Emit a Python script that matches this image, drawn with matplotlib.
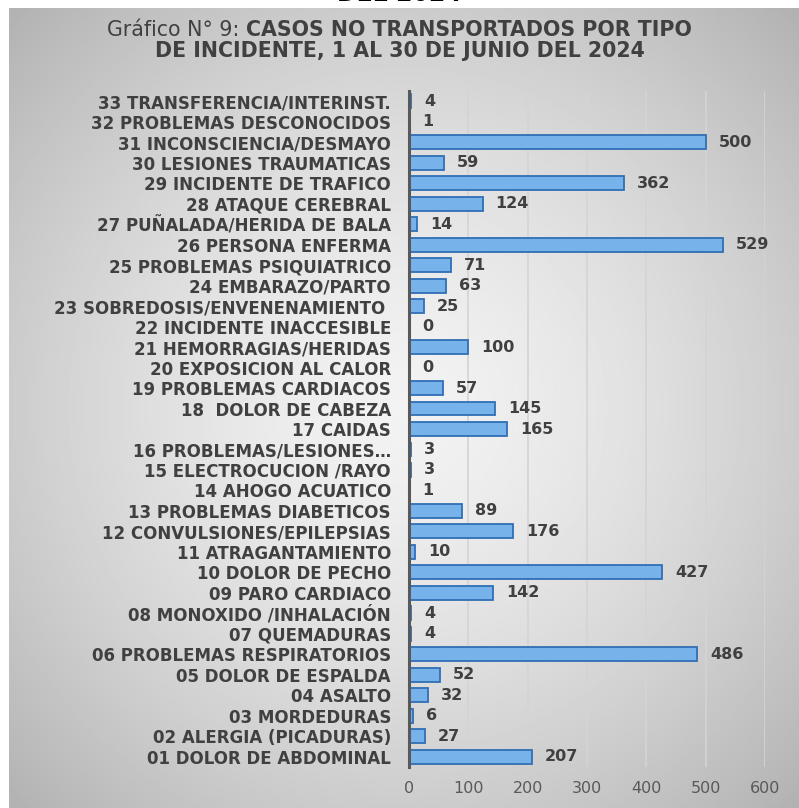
import numpy as np
import matplotlib.pyplot as plt

# categories listed from bottom (01) to top (33)
categories = [
    "01 DOLOR DE ABDOMINAL", "02 ALERGIA (PICADURAS)", "03 MORDEDURAS", "04 ASALTO",
    "05 DOLOR DE ESPALDA", "06 PROBLEMAS RESPIRATORIOS", "07 QUEMADURAS",
    "08 MONOXIDO /INHALACIÓN", "09 PARO CARDIACO", "10 DOLOR DE PECHO",
    "11 ATRAGANTAMIENTO", "12 CONVULSIONES/EPILEPSIAS", "13 PROBLEMAS DIABETICOS",
    "14 AHOGO ACUATICO", "15 ELECTROCUCION /RAYO", "16 PROBLEMAS/LESIONES…",
    "17 CAIDAS", "18  DOLOR DE CABEZA", "19 PROBLEMAS CARDIACOS",
    "20 EXPOSICION AL CALOR", "21 HEMORRAGIAS/HERIDAS", "22 INCIDENTE INACCESIBLE",
    "23 SOBREDOSIS/ENVENENAMIENTO ", "24 EMBARAZO/PARTO", "25 PROBLEMAS PSIQUIATRICO",
    "26 PERSONA ENFERMA", "27 PUÑALADA/HERIDA DE BALA", "28 ATAQUE CEREBRAL",
    "29 INCIDENTE DE TRAFICO", "30 LESIONES TRAUMATICAS", "31 INCONSCIENCIA/DESMAYO",
    "32 PROBLEMAS DESCONOCIDOS", "33 TRANSFERENCIA/INTERINST.",
]
casos = [207, 27, 6, 32, 52, 486, 4, 4, 142, 427, 10, 176, 89, 1, 3, 3,
         165, 145, 57, 0, 100, 0, 25, 63, 71, 529, 14, 124, 362, 59, 500, 1, 4]
x_ticks = [0, 100, 200, 300, 400, 500, 600]

plt.rcParams['font.family'] = ['DejaVu Sans']

W, H = 799, 808
fig = plt.figure(figsize=(W / 100, H / 100), dpi=100)
fig.patch.set_facecolor('white')

# gray panel with a soft radial gradient
bg = fig.add_axes([9 / W, 0, 1 - 9 / W, 1 - 8 / H])
yy, xx = np.mgrid[0:1:400j, 0:1:400j]
r = np.sqrt((xx - 0.5) ** 2 + (yy - 0.5) ** 2)
shade = 0.95 - 0.26 * np.clip(r / 0.72, 0, 1) ** 1.5
bg.imshow(shade, cmap='gray', vmin=0, vmax=1, aspect='auto', extent=[0, 1, 0, 1])
bg.set_axis_off()

# clipped text from the previous title line at the very top
fig.text(0.5, 1 - 6 / H, "DEL 2024", ha='center', va='bottom', fontsize=17,
         fontweight='bold', color='black')

# title: first part regular, rest bold (two pieces placed side by side)
renderer = fig.canvas.get_renderer()
t1 = fig.text(0, 1 - 30 / H, "Gráfico N° 9: ", ha='left', va='center',
              fontsize=14.8, color='#404040')
t2 = fig.text(0, 1 - 30 / H, "CASOS NO TRANSPORTADOS POR TIPO", ha='left', va='center',
              fontsize=14.8, fontweight='bold', color='#404040')
w1 = t1.get_window_extent(renderer).width
w2 = t2.get_window_extent(renderer).width
x0 = (W - w1 - w2) / 2 / W
t1.set_x(x0)
t2.set_x(x0 + w1 / W)
fig.text(0.5, 1 - 51 / H, "DE INCIDENTE, 1 AL 30 DE JUNIO DEL 2024",
         ha='center', va='center', fontsize=14.8, fontweight='bold', color='#404040')

ax = fig.add_axes([409 / W, 1 - 767 / H, (765 - 409) / W, (767 - 91) / H])
ax.patch.set_alpha(0)
y = np.arange(len(categories))
ax.barh(y, casos, height=0.68, color='#78b2ea', edgecolor='#2f6fb5', linewidth=1.3, zorder=3)
for yi, v in zip(y, casos):
    ax.text(v + 22, yi, str(v), va='center', ha='left', fontsize=11.5,
            fontweight='bold', color='#404040')

ax.set_xlim(0, 600)
ax.set_ylim(-0.5, len(categories) - 0.5)
ax.set_xticks(x_ticks)
ax.set_yticks(y)
ax.set_yticklabels(categories, fontsize=12, fontweight='bold', color='#404040')
ax.tick_params(axis='y', length=0, pad=13)
ax.tick_params(axis='x', length=0, pad=10, labelsize=11.5, labelcolor='#595959')
ax.grid(axis='x', color='#d4d4d4', linewidth=1.2, zorder=0)
for s in ['top', 'right', 'bottom']:
    ax.spines[s].set_visible(False)
ax.spines['left'].set_color('#595959')
ax.spines['left'].set_linewidth(2.2)
ax.spines['left'].set_zorder(4)

fig.savefig('out.png', dpi=100)
